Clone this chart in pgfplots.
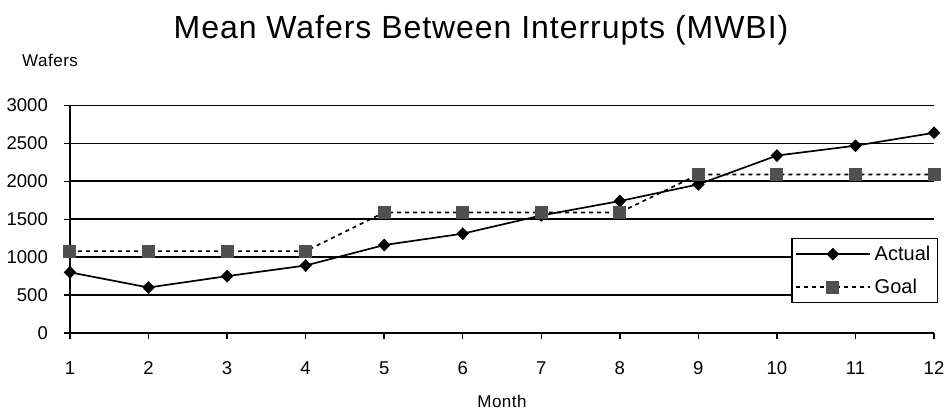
\documentclass[border=0pt]{standalone}
\usepackage{fontspec}
\setmainfont{Liberation Sans}
\newfontfamily\titlefont[LetterSpace=3]{Liberation Sans}
\newfontfamily\labfont[LetterSpace=3]{Liberation Sans}
\usepackage{pgfplots}
\pgfplotsset{compat=1.18}
\definecolor{goalgray}{HTML}{505050}
\begin{document}
\begin{tikzpicture}[x=1bp,y=1bp]
\path[use as bounding box] (-70,-81) rectangle (882,333);
\begin{axis}[at={(0,0)}, anchor=south west, scale only axis,
  width=864bp, height=227.5bp,
  xmin=1, xmax=12, ymin=0, ymax=3000,
  xtick={1,...,12}, ytick={0,500,...,3000},
  axis x line=bottom, axis y line=left,
  axis line style={-, line width=1.8bp, black},
  ymajorgrids, grid style={black, line width=1.8bp},
  tick align=outside, major tick length=6bp,
  tick style={black, line width=1.5bp},
  ticklabel style={font=\fontsize{18.5bp}{20bp}\selectfont},
  /pgf/number format/assume math mode=true,
  /pgf/number format/1000 sep={},
  xticklabel style={anchor=base, inner sep=0pt, yshift=-35.3bp},
  yticklabel style={anchor=east, inner sep=0pt, xshift=-16bp},
  clip=false,
  legend style={at={(1.0046,0.4176)}, anchor=north east, draw=black,
    line width=1.3bp, font=\fontsize{20bp}{22bp}\selectfont,
    inner xsep=3bp, inner ysep=6bp, row sep=14bp,
    nodes={inner ysep=1.5bp, inner xsep=4bp, anchor=west}},
  legend cell align=left,
  legend image code/.code={\draw[#1, mark repeat=2, mark phase=2]
    plot coordinates {(0bp,0bp) (37bp,0bp) (74bp,0bp)};},
]
\addplot[black, line width=1.7bp, mark=diamond*, mark size=5.2bp,
  mark options={solid, fill=black, xscale=1.3}]
  coordinates {(1,800) (2,600) (3,750) (4,890) (5,1160) (6,1310) (7,1550)
  (8,1740) (9,1960) (10,2340) (11,2470) (12,2640)};
\addlegendentry{Actual}
\addplot[black, line width=1.7bp, dash pattern=on 4bp off 4bp, mark=square*,
  mark size=6bp, mark options={solid, fill=goalgray, draw=goalgray, line width=0pt}]
  coordinates {(1,1080) (2,1080) (3,1080) (4,1080) (5,1590) (6,1590) (7,1590)
  (8,1590) (9,2090) (10,2090) (11,2090) (12,2090)};
\addlegendentry{Goal}
\end{axis}
\node[anchor=base, inner sep=0pt, font=\titlefont\fontsize{32bp}{32bp}\selectfont]
  at (411,294.7) {Mean Wafers Between Interrupts (MWBI)};
\node[anchor=base west, inner sep=0pt, font=\labfont\fontsize{17bp}{17bp}\selectfont]
  at (-48,266.3) {Wafers};
\node[anchor=base, inner sep=0pt, font=\labfont\fontsize{17bp}{17bp}\selectfont]
  at (432,-74.5) {Month};
\end{tikzpicture}
\end{document}
